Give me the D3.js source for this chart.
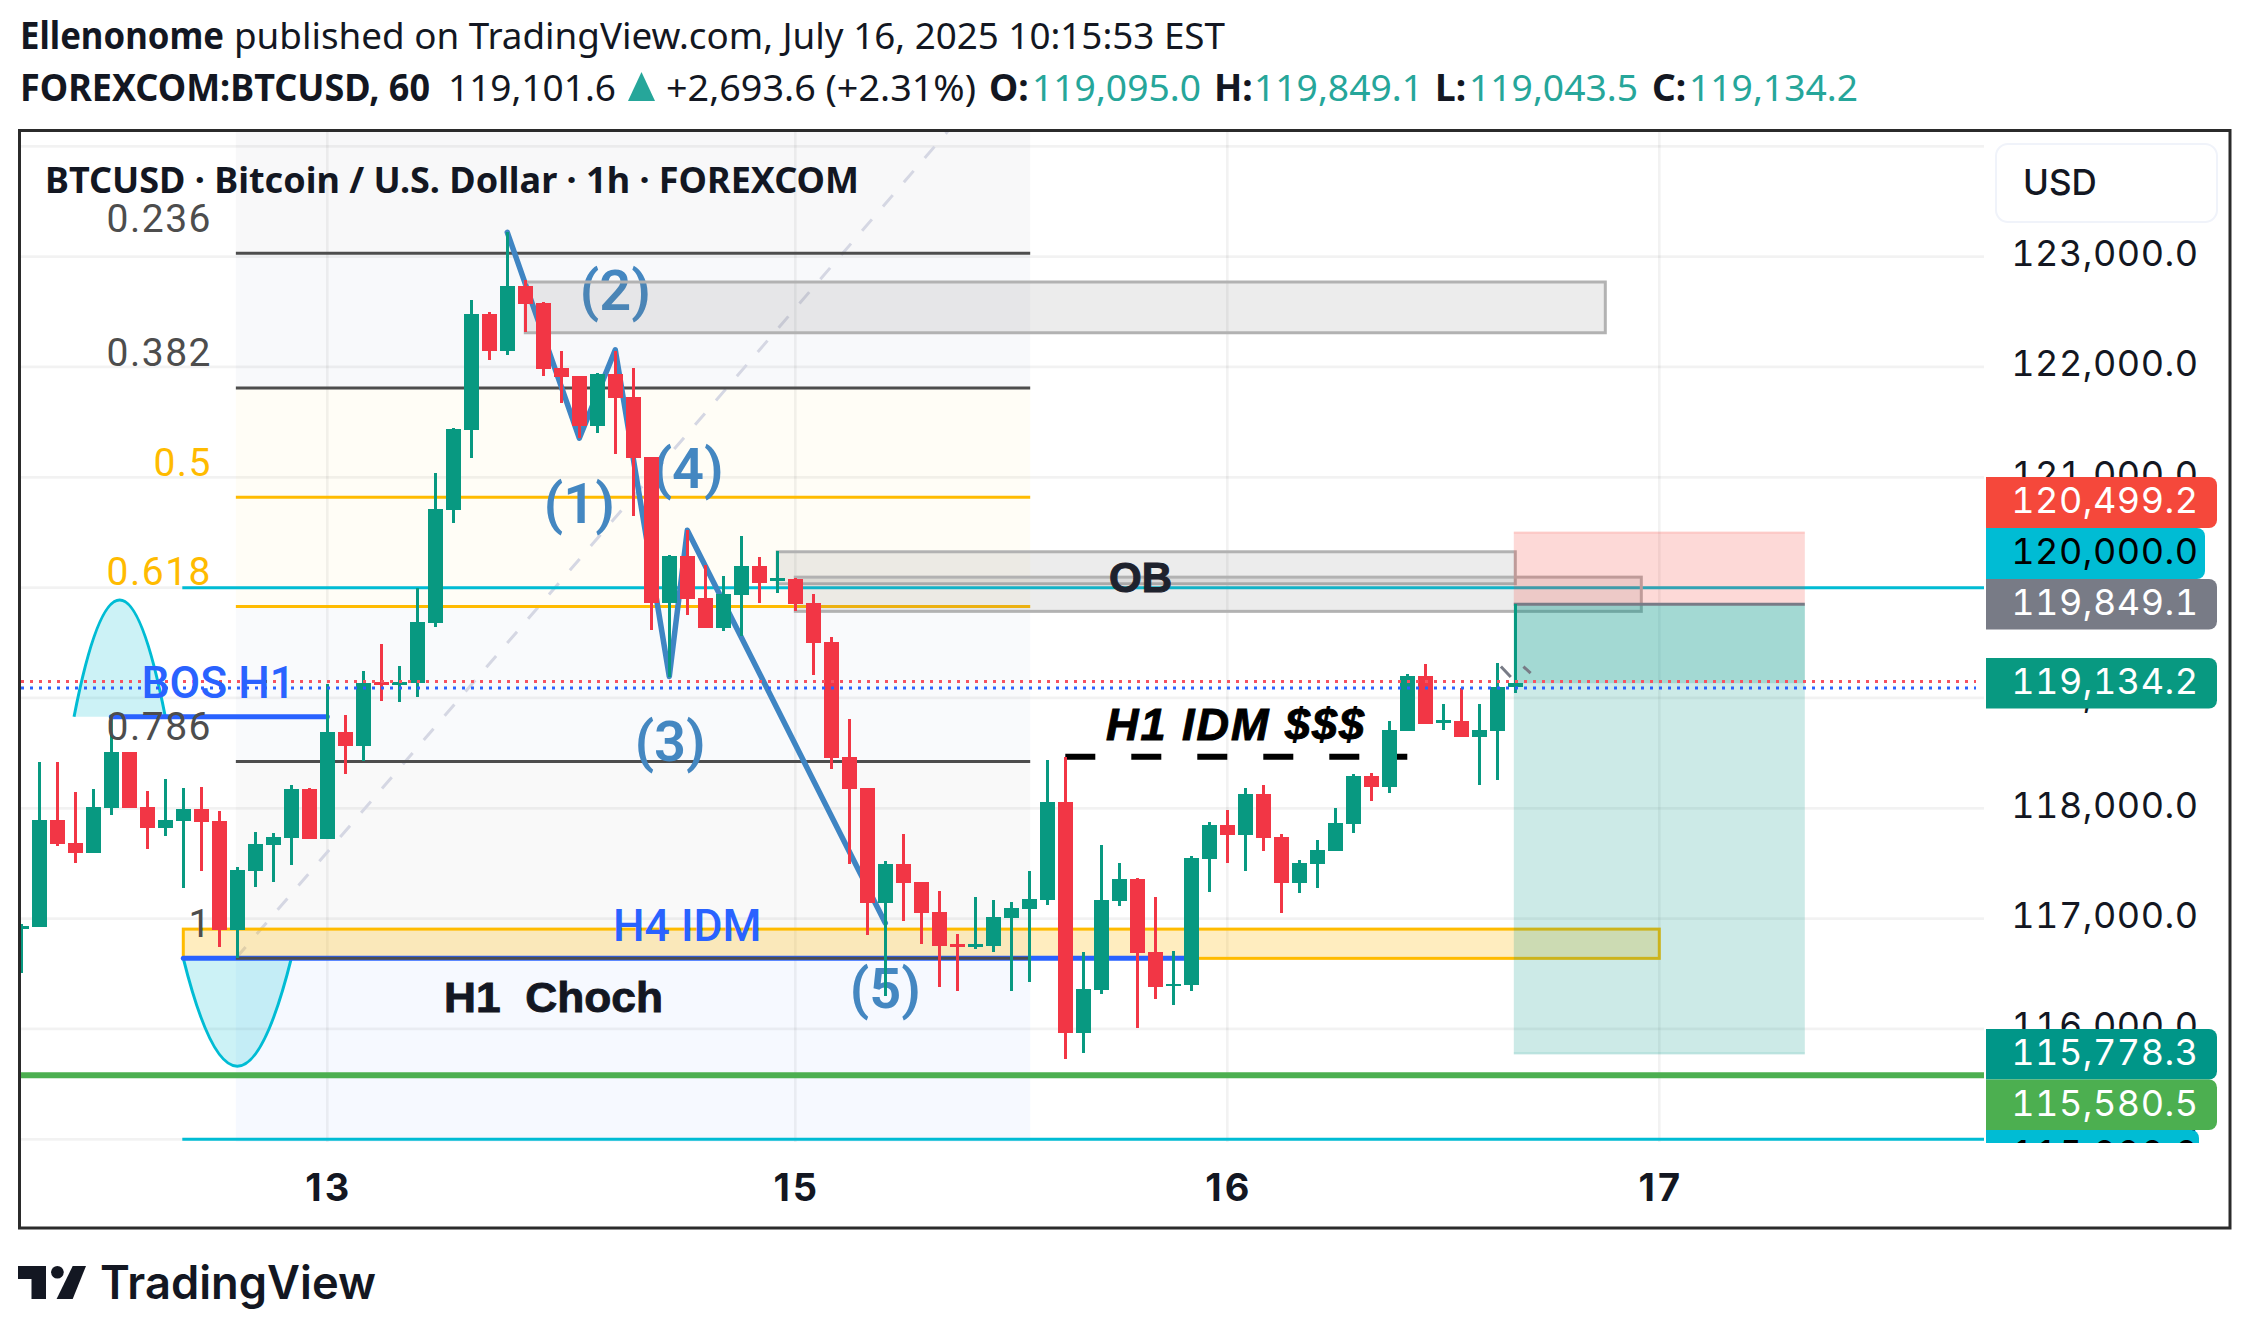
<!DOCTYPE html>
<html>
<head>
<meta charset="utf-8">
<title>BTCUSD 1h</title>
<script src="https://cdn.jsdelivr.net/npm/d3@7"></script>
<style>
  html,body{margin:0;padding:0;background:#fff;}
  svg{display:block;}
  text{white-space:pre;}
  .hdr{font-family:"Noto Sans",sans-serif;font-size:37px;fill:#131722;}
  .hdr.b{font-weight:700;}
  .hdr.up{fill:#26a69a;}
  .title{font-family:"Noto Sans",sans-serif;font-size:36.5px;font-weight:700;fill:#131722;}
  .fib{font-family:Roboto,sans-serif;font-size:39px;letter-spacing:1.5px;text-anchor:end;}
  .wave{font-family:Roboto,sans-serif;font-size:56px;font-weight:600;fill:#4487c1;text-anchor:middle;}
  .blue{font-family:Roboto,sans-serif;font-size:44.5px;font-weight:500;fill:#2962ff;}
  .px{font-family:Inter,sans-serif;font-size:36px;letter-spacing:.5px;text-anchor:end;font-feature-settings:"tnum";}
  .day{font-family:Inter,sans-serif;font-size:38px;font-weight:700;letter-spacing:3px;fill:#131722;}
</style>
</head>
<body>
<svg id="chart" width="2250" height="1338"></svg>
<script>
/* ---------------- 値 ---------------- */
const opens  = [116910,116920,117890,117685,117595,118000,118510,118010,117820,117885,117995,117885,116895,117430,117665,117730,118175,117720,118690,118565,119145,119120,119135,119680,120705,121430,122480,122145,122735,122580,121990,121920,121465,121935,121730,121185,119860,120285,119905,119635,119935,120195,120060,120080,119860,119505,118465,118180,117140,117495,117330,117060,116770,116745,116750,117005,117085,117170,118055,115965,116355,117160,117360,116695,116390,116400,117540,117850,117760,118130,117740,117325,117495,117615,117860,118295,118195,118700,119200,118775,118790,118645,118700,119095];
const highs  = [116950,118420,118420,118150,118175,118820,118510,118155,118265,118185,118195,117975,117470,117785,117775,118210,118185,119125,118845,119245,119490,119290,120000,121040,121450,122605,122500,123225,122790,122590,122145,121920,121945,122145,121990,121185,120295,120525,120205,120105,120470,120280,120330,120085,119940,119555,118810,118180,117520,117765,117330,117250,116860,117195,117170,117150,117430,118440,118465,116700,117665,117505,117370,117195,116705,117570,117875,117985,118185,118210,117765,117530,117715,118005,118310,118320,118790,119215,119310,118945,119090,118945,119315,119849.1];
const lows   = [116510,116920,117660,117505,117595,117940,118000,117630,117750,117280,117430,116745,116640,117285,117330,117485,117720,117720,118310,118430,118975,118965,119010,119645,120585,121175,122065,122110,122315,121920,121675,121355,121400,121210,120650,119615,119190,119750,119635,119605,119560,119860,119950,119790,119210,118355,117495,116850,116300,116980,116770,116380,116345,116725,116700,116345,116425,117125,115730,115780,116315,117115,116010,116270,116215,116345,117240,117505,117430,117615,117050,117230,117280,117615,117775,118065,118140,118700,118765,118710,118645,118210,118255,119043.5];
const closes = [116930,117890,117680,117595,118010,118510,118000,117820,117895,117995,117875,116895,117440,117675,117740,118175,117720,118690,118565,119135,119120,119145,119690,120715,121440,122480,122145,122735,122570,121980,121910,121465,121935,121720,121175,119860,120285,119895,119635,119940,120195,120040,120085,119850,119500,118455,118175,117140,117495,117325,117050,116750,116745,116770,117015,117095,117180,118055,115965,116360,117170,117360,116690,116380,116410,117550,117850,117760,118130,117730,117325,117505,117620,117865,118295,118195,118710,119200,118765,118800,118645,118710,119100,119134.2];
const firstBar = -1;

const priceTicks = [123000,122000,121000,120000,119000,118000,117000,116000,115000];
const gridPrices = [124000,123000,122000,121000,120000,119000,118000,117000,116000,115000];
const dayBars    = [16,42,66,90];
const dayLabels  = ["13","15","16","17"];

const fibLabels = ["0.236","0.382","0.5","0.618","0.786","1"];
const fibPrices = [123030,121810,120820,119830,118425,116640];
const fibTopPrice = 125005;
const fibBars   = [10.92,55.05];

const waveBars   = [26,30,32,35,36,47];
const wavePrices = [123220,121355,122155,119195,120520,116960];
const waveLabels = ["(1)","(2)","(3)","(4)","(5)"];
const waveLabelBars   = [30,32,35.05,36.05,47];
const waveLabelPrices = [120585,122515,118425,120905,116190];

const grayBoxBars   = [[27,87],[41,82],[42,89]];
const grayBoxPrices = [[122770,122310],[120325,120035],[120095,119785]];

const stopPrice = 120499.2, entryPrice = 119849.1, targetPrice = 115778.3, lastPrice = 119134.2, greenLinePrice = 115580.5;
const toolBars = [82,98];
const redDotted = 119150, blueDotted = 119090;

const tagValues = [120499.2,120000,119849.1,119134.2,115778.3,115580.5,115000];

/* ---------------- 共通 ---------------- */
const svg = d3.select("#chart");
const x = d3.scaleLinear().domain([-1,82]).range([21.3,1515.3]);
const y = d3.scaleLinear().domain([115000,124000]).range([1139.3,146.3]);
const PLOT = {l:20, r:1984, t:132, b:1142};
const fmt = d3.format(",.1f");

svg.append("defs").append("clipPath").attr("id","plot")
  .append("rect").attr("x",PLOT.l).attr("y",PLOT.t).attr("width",PLOT.r-PLOT.l).attr("height",PLOT.b-PLOT.t);
svg.select("defs").append("clipPath").attr("id","pane")
  .append("rect").attr("x",PLOT.r).attr("y",PLOT.t).attr("width",240).attr("height",1143-PLOT.t);

function hdr(str,px,base,cls,len){
  const t = svg.append("text").attr("class","hdr "+(cls||"")).attr("x",px).attr("y",base).text(str);
  if(len) t.attr("textLength",len).attr("lengthAdjust","spacingAndGlyphs");
  return t;
}

/* ---------------- ヘッダー ---------------- */
hdr("Ellenonome",20,49,"b",204);
hdr("published on TradingView.com, July 16, 2025 10:15:53 EST",234,49,"",991);
hdr("FOREXCOM:BTCUSD, 60",20,101,"b",410);
hdr("119,101.6",448,101,"",168);
svg.append("path").attr("d","M641.5 72L655 101L628 101Z").attr("fill","#26a69a");
hdr("+2,693.6 (+2.31%)",666,101,"",310);
[["O:","119,095.0",989,1032],["H:","119,849.1",1214,1254],["L:","119,043.5",1435,1469],["C:","119,134.2",1652,1689]]
  .forEach(d=>{ hdr(d[0],d[2],101,"b"); hdr(d[1],d[3],101,"up",169); });

const plot = svg.append("g").attr("clip-path","url(#plot)");

/* ---------------- フィボナッチ背景 ---------------- */
const fibL = x(fibBars[0]), fibR = x(fibBars[1]);
const zoneEdges = [PLOT.t, y(fibPrices[0]), y(fibPrices[1]), y(fibPrices[3]), y(fibPrices[4]), y(fibPrices[5]), PLOT.b];
const zoneFill  = ["#f8f8f9","#f8f9fb","#fffdf6","#f9fafc","#f9f9f9","#f6f9ff"];
zoneFill.forEach((c,i)=>{
  plot.append("rect").attr("x",fibL).attr("y",zoneEdges[i]).attr("width",fibR-fibL)
    .attr("height",zoneEdges[i+1]-zoneEdges[i]).attr("fill",c);
});

/* ---------------- グリッド ---------------- */
plot.append("g").selectAll("line").data(gridPrices).join("line")
  .attr("x1",PLOT.l).attr("x2",PLOT.r).attr("y1",d=>y(d)).attr("y2",d=>y(d))
  .attr("stroke","rgba(0,0,0,.05)").attr("stroke-width",2.7);
plot.append("g").selectAll("line").data(dayBars).join("line")
  .attr("x1",d=>x(d)).attr("x2",d=>x(d)).attr("y1",PLOT.t).attr("y2",PLOT.b)
  .attr("stroke","rgba(0,0,0,.05)").attr("stroke-width",2.7);

/* ---------------- フィボナッチ線 ---------------- */
plot.append("line")
  .attr("x1",fibL).attr("y1",y(fibPrices[5])).attr("x2",fibR).attr("y2",y(fibTopPrice))
  .attr("stroke","#d5d7e3").attr("stroke-width",3).attr("stroke-dasharray","15 17");
const fibColor = ["#4d4d4d","#4d4d4d","#ffbb00","#ffbb00","#4d4d4d","#4d4d4d"];
fibPrices.forEach((p,i)=>{
  plot.append("line").attr("x1",fibL).attr("x2",fibR).attr("y1",y(p)).attr("y2",y(p))
    .attr("stroke",fibColor[i]).attr("stroke-width",3);
  svg.append("text").attr("class","fib").attr("x",212).attr("y",y(p)-21.5)
    .attr("fill",fibColor[i]).text(fibLabels[i]);
});

/* ---------------- 水平線 ---------------- */
[120000,115000].forEach(p=>{
  plot.append("line").attr("x1",x(8)-1).attr("x2",PLOT.r).attr("y1",y(p)).attr("y2",y(p))
    .attr("stroke","#00bcd4").attr("stroke-width",3);
});
plot.append("line").attr("x1",PLOT.l).attr("x2",PLOT.r).attr("y1",y(greenLinePrice)).attr("y2",y(greenLinePrice))
  .attr("stroke","#4caf50").attr("stroke-width",6);

/* ---------------- アーク ---------------- */
function arc(b0,b1,base,ctrl){
  const p = d3.path();
  p.moveTo(x(b0),y(base));
  p.quadraticCurveTo((x(b0)+x(b1))/2,y(ctrl),x(b1),y(base));
  plot.append("path").attr("d",p.toString()).attr("fill","rgba(0,188,212,.2)").attr("stroke","none");
  plot.append("path").attr("d",p.toString()).attr("fill","none").attr("stroke","#00bcd4").attr("stroke-width",3);
}
arc(1.93,7,118830,120946);
arc(8,14,116640,114685);

/* ---------------- 黄色ボックス / BOS / CHoCH ---------------- */
plot.append("rect").attr("x",x(8)).attr("y",y(116905)).attr("width",x(90)-x(8)).attr("height",y(116640)-y(116905))
  .attr("fill","rgba(255,184,0,.25)").attr("stroke","#ffbb00").attr("stroke-width",3);
plot.append("line").attr("x1",x(8)).attr("x2",x(64)).attr("y1",y(116640)).attr("y2",y(116640))
  .attr("stroke","#2962ff").attr("stroke-width",5).attr("stroke-linecap","round");
plot.append("line").attr("x1",fibL).attr("x2",fibR).attr("y1",y(116640)).attr("y2",y(116640))
  .attr("stroke","#4d4d4d").attr("stroke-width",3);
plot.append("line").attr("x1",x(4)).attr("x2",x(16)).attr("y1",y(118830)).attr("y2",y(118830))
  .attr("stroke","#2962ff").attr("stroke-width",5).attr("stroke-linecap","round");

/* ---------------- 波動ライン ---------------- */
const wave = d3.line().x((d,i)=>x(waveBars[i])).y(d=>y(d));
plot.append("path").attr("d",wave(wavePrices)).attr("fill","none")
  .attr("stroke","#3f85c3").attr("stroke-width",5.5).attr("stroke-linejoin","round").attr("stroke-linecap","round");
waveLabels.forEach((t,i)=>{
  plot.append("text").attr("class","wave").attr("x",x(waveLabelBars[i])).attr("y",y(waveLabelPrices[i])).text(t);
});

/* ---------------- テキスト ---------------- */
svg.append("text").attr("class","title").attr("x",45).attr("y",193)
  .attr("textLength",814).attr("lengthAdjust","spacingAndGlyphs")
  .text("BTCUSD \u00b7 Bitcoin / U.S. Dollar \u00b7 1h \u00b7 FOREXCOM");
svg.append("text").attr("class","blue").attr("x",141.5).attr("y",698).text("BOS H1");
svg.append("text").attr("class","blue").attr("x",613).attr("y",941).text("H4 IDM");
svg.append("text").attr("x",444).attr("y",1011.5).attr("textLength",219).attr("lengthAdjust","spacingAndGlyphs")
  .style("font","700 43px 'Liberation Sans'").attr("fill","#131722").attr("stroke","#131722").attr("stroke-width",.9).text("H1  Choch");
svg.append("text").attr("x",1109).attr("y",592)
  .style("font","700 42px 'Liberation Sans'").attr("fill","#1e222d").attr("stroke","#1e222d").attr("stroke-width",1).text("OB");
svg.append("text").attr("x",1106).attr("y",740).attr("textLength",258)
  .style("font","italic 700 45px 'Liberation Sans'").attr("fill","#000").attr("stroke","#000").attr("stroke-width",1).text("H1 IDM $$$");
plot.append("line").attr("x1",x(57)).attr("x2",x(76)).attr("y1",y(118468)).attr("y2",y(118468))
  .attr("stroke","#000").attr("stroke-width",6).attr("stroke-dasharray","30 36");

/* ---------------- グレーボックス ---------------- */
grayBoxBars.forEach((b,i)=>{
  const p = grayBoxPrices[i];
  plot.append("rect").attr("x",x(b[0])).attr("y",y(p[0])).attr("width",x(b[1])-x(b[0])).attr("height",y(p[1])-y(p[0]))
    .attr("fill","rgba(120,120,120,.14)").attr("stroke","#b2b2b2").attr("stroke-width",3);
});

/* ---------------- ロングポジションツール ---------------- */
const toolL = x(toolBars[0])-1.5, toolW = x(toolBars[1])+1.5-toolL;
function toolRect(top,bot,fill){
  plot.append("rect").attr("x",toolL).attr("width",toolW).attr("y",y(top)).attr("height",y(bot)-y(top)).attr("fill",fill);
}
toolRect(stopPrice,entryPrice,"rgba(244,67,54,.2)");
toolRect(entryPrice,targetPrice,"rgba(0,150,136,.2)");
toolRect(entryPrice,lastPrice,"rgba(0,150,136,.2)");
plot.append("line").attr("x1",toolL).attr("x2",toolL+toolW).attr("y1",y(stopPrice)).attr("y2",y(stopPrice))
  .attr("stroke","rgba(244,67,54,.2)").attr("stroke-width",2);
plot.append("line").attr("x1",toolL).attr("x2",toolL+toolW).attr("y1",y(targetPrice)).attr("y2",y(targetPrice))
  .attr("stroke","rgba(0,150,136,.2)").attr("stroke-width",2);
plot.append("line").attr("x1",toolL).attr("x2",toolL+toolW).attr("y1",y(entryPrice)).attr("y2",y(entryPrice))
  .attr("stroke","#787b86").attr("stroke-width",3);

/* ---------------- ローソク足 ---------------- */
const bars = closes.map((c,i)=>({i:i+firstBar,o:opens[i],h:highs[i],l:lows[i],c:c}));
const col = d=>d.c>=d.o ? "#089981" : "#f23645";
const candles = plot.append("g").attr("shape-rendering","crispEdges");
candles.selectAll("line").data(bars).join("line")
  .attr("x1",d=>x(d.i)).attr("x2",d=>x(d.i)).attr("y1",d=>y(d.h)).attr("y2",d=>y(d.l))
  .attr("stroke",col).attr("stroke-width",3);
candles.selectAll("rect").data(bars).join("rect")
  .attr("x",d=>x(d.i)-7.5).attr("width",15)
  .attr("y",d=>y(Math.max(d.o,d.c))).attr("height",d=>Math.max(2.5,Math.abs(y(d.o)-y(d.c))))
  .attr("fill",col);

/* 現在値まわりの矢印 */
[[81.2,119285,81.75,119190],[82.45,119285,82.85,119225]].forEach(s=>{
  plot.append("line").attr("x1",x(s[0])).attr("y1",y(s[1])).attr("x2",x(s[2])).attr("y2",y(s[3]))
    .attr("stroke","#787b86").attr("stroke-width",3);
});

/* ---------------- 点線 ---------------- */
[[redDotted,"#f7525f"],[blueDotted,"#2962ff"]].forEach(d=>{
  plot.append("line").attr("x1",PLOT.l+1).attr("x2",1976).attr("y1",y(d[0])).attr("y2",y(d[0]))
    .attr("stroke",d[1]).attr("stroke-width",3).attr("stroke-dasharray","3 6");
});

/* ---------------- 価格軸 ---------------- */
const pane = svg.append("g").attr("clip-path","url(#pane)");
const yAxis = d3.axisRight(y).tickValues(priceTicks).tickFormat(fmt).tickSize(0);
const yG = pane.append("g").call(yAxis);
yG.select(".domain").remove();
yG.selectAll("text").attr("class","px").attr("x",2198.5).attr("dy",null).attr("y",9).attr("fill","#131722");

const tagTop  = [477,528,579,658,1029,1079.5,1130];
const tagH    = [51,51,50.5,50.5,50.5,50.5,50.5];
const tagRight= [2217,2205,2217,2217,2217,2217,2199];
const tagFill = ["#f5483b","#00bcd4","#787b86","#089981","#009688","#4caf50","#00bcd4"];
const tagText = ["#fff","#000","#fff","#fff","#fff","#fff","#000"];
tagValues.forEach((v,i)=>{
  const p = d3.path(), r = 8, l = 1986, t = tagTop[i], b = t+tagH[i], e = tagRight[i];
  p.moveTo(l,t); p.lineTo(e-r,t); p.arcTo(e,t,e,t+r,r); p.lineTo(e,b-r); p.arcTo(e,b,e-r,b,r); p.lineTo(l,b); p.closePath();
  pane.append("path").attr("d",p.toString()).attr("fill",tagFill[i]);
  pane.append("text").attr("class","px").attr("x",2198.5).attr("y",t+36).attr("fill",tagText[i]).text(fmt(v));
});

/* USD ボタン */
svg.append("rect").attr("x",1996).attr("y",144).attr("width",221).attr("height",78).attr("rx",12)
  .attr("fill","#fff").attr("stroke","#f0f3fa").attr("stroke-width",2);
svg.append("text").attr("x",2023).attr("y",195).style("font","500 35px Inter").attr("fill","#131722").text("USD");

/* ---------------- 時間軸 ---------------- */
const xAxis = d3.axisBottom(x).tickValues(dayBars).tickFormat((d,i)=>dayLabels[i]).tickSize(0);
const xG = svg.append("g").attr("transform","translate(1,1141)").call(xAxis);
xG.select(".domain").remove();
xG.selectAll("text").attr("class","day").attr("dy",null).attr("y",60).attr("fill","#131722");

/* ---------------- 枠 ---------------- */
svg.append("rect").attr("x",19.5).attr("y",130.5).attr("width",2210.5).attr("height",1097.5)
  .attr("fill","none").attr("stroke","#2b2b2b").attr("stroke-width",3);

/* ---------------- ロゴ ---------------- */
const logo = svg.append("g").attr("fill","#131722");
logo.append("path").attr("d","M18 1266H46V1299H31.5V1279H18Z");
logo.append("circle").attr("cx",57.4).attr("cy",1272.3).attr("r",6.3);
logo.append("path").attr("d","M72.7 1266H86L72.7 1299H56.6Z");
logo.append("text").attr("x",100).attr("y",1299).attr("textLength",276).attr("lengthAdjust","spacingAndGlyphs")
  .style("font","600 46px Inter").text("TradingView");
</script>
</body>
</html>
